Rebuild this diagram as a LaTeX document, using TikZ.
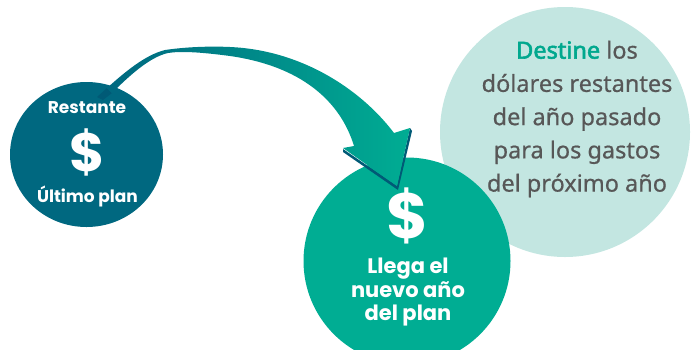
\documentclass[tikz,border=0pt]{standalone}
\usepackage{fontspec}
\setmainfont{Noto Sans}[FakeBold=0.6]
\newfontfamily\boldnoto{Noto Sans}[FakeBold=2.4]
\newfontfamily\geofont{Poppins}
\usetikzlibrary{shapes.geometric}

\definecolor{lastblue}{HTML}{006880}
\definecolor{tailblue}{HTML}{005A76}
\definecolor{newgreen}{HTML}{00AD93}
\definecolor{destlight}{HTML}{C3E6E1}
\definecolor{destgray}{HTML}{575757}
\definecolor{destgreen}{HTML}{00A88E}

\tikzset{
  bubble/.style={ellipse, inner sep=0pt},
  whitelbl/.style={text=white, font=\geofont\bfseries\fontsize{17}{20}\selectfont},
  dollar/.style={text=white, font=\geofont\bfseries\fontsize{#1}{#1}\selectfont},
}

\begin{document}
\begin{tikzpicture}[x=1pt, y=-1pt]
	\useasboundingbox (0,0) rectangle (692,349);
	\clip (0,0) rectangle (692,349);

	% circles
	\node[bubble, fill=destlight, minimum width=250pt, minimum height=250pt] (dest) at (565,132) {};
	\node[bubble, fill=newgreen, minimum width=207pt, minimum height=207pt] (new) at (407,261) {};
	\node[bubble, fill=lastblue, minimum width=153pt, minimum height=145pt] (last) at (86.5,154.5) {};

	% curved arrow
	\fill [tailblue] (97,97) -- (103,100) -- (112,93) -- (107,88) -- cycle;
	\fill [tailblue] (343,149) -- (343,152) -- (398,190) -- (412,131) -- (410,128) -- (397,186) -- cycle;
	\shade [left color=lastblue, right color=newgreen]
		(107,88) .. controls (125,72) and (145,55) .. (165,50)
		.. controls (185,47) and (210,46) .. (230,47)
		.. controls (300,50) and (360,88) .. (394,133)
		-- (410,128) -- (397,186) -- (343,148) -- (354,146)
		.. controls (340,100) and (300,66) .. (230,56)
		.. controls (200,52) and (180,51) .. (168,53)
		.. controls (150,57) and (130,75) .. (112,93) -- cycle;

	% labels of the last plan
	\node[whitelbl, anchor=base] (rest) at (87,113) {Restante};
	\node[dollar=54] (lastd) at (87,152) {\$};
	\node[whitelbl, anchor=base] (ult) at (87.5,202) {Último plan};

	% labels of the new plan
	\node[dollar=64] (newd) at (408,216) {\$};
	\node[whitelbl, font=\geofont\bfseries\fontsize{21}{23.5}\selectfont, anchor=base] (llega) at (408,273) {Llega el};
	\node[whitelbl, font=\geofont\bfseries\fontsize{21}{23.5}\selectfont, anchor=base] (nuevo) at (408,297) {nuevo año};
	\node[whitelbl, font=\geofont\bfseries\fontsize{21}{23.5}\selectfont, anchor=base] (delp) at (408,320) {del plan};

	% text in the light circle
	\node[text=destgray, align=center, font=\fontsize{23.5}{33.25}\selectfont] (desttxt) at (577,119)
		{\textcolor{destgreen}{\boldnoto Destine} los\\dólares restantes\\del año pasado\\para los gastos\\del próximo año};
\end{tikzpicture}
\end{document}
